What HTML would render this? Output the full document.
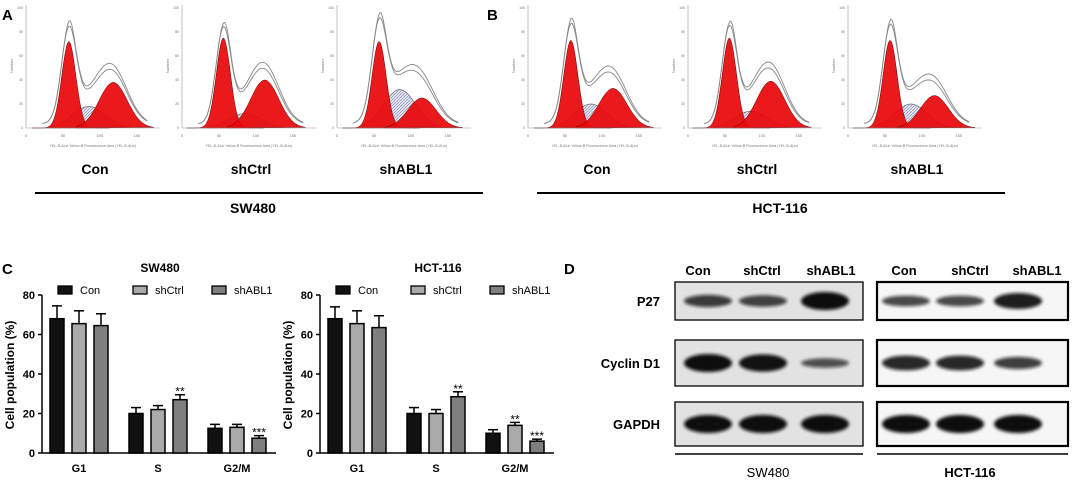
<!DOCTYPE html>
<html><head><meta charset="utf-8"><style>
body{margin:0;background:#fff;width:1074px;height:485px;overflow:hidden;font-family:"Liberation Sans",Arial,sans-serif}
svg text{font-family:"Liberation Sans",Arial,sans-serif}
</style></head><body>
<svg id="fig" width="1074" height="485" viewBox="0 0 1074 485">
<defs>
<pattern id="hatch" width="3" height="3" patternUnits="userSpaceOnUse"><rect width="3" height="3" fill="#e4e6f0"/><path d="M0,3 L3,0" stroke="#7a7fa8" stroke-width="0.6"/></pattern>
<filter id="blur" x="-20%" y="-50%" width="140%" height="200%"><feGaussianBlur stdDeviation="1.6"/></filter>
</defs>
<g id="panelA"></g><g id="panelC"></g><g id="panelD"></g>
<text x="2" y="20" font-size="15" font-weight="bold">A</text>
<text x="487" y="20" font-size="15" font-weight="bold">B</text>
<text x="2" y="274" font-size="15" font-weight="bold">C</text>
<text x="564" y="274" font-size="15" font-weight="bold">D</text>
</svg>
<script>
const NS='http://www.w3.org/2000/svg';
function mk(p,tag,at,txt){const e=document.createElementNS(NS,tag);for(const k in at)e.setAttribute(k,at[k]);if(txt!=null)e.textContent=txt;p.appendChild(e);return e;}

// ---- Panel A/B histogram data ----
const histGroups=['Con','shCtrl','shABL1'];
const histG1Height=[72,75,72, 73,75,73];
const histG1Mean=[58,56,57, 58,56,57];
const histS=[18,12,32, 20,14,20];
const histG2Height=[38,40,25, 33,39,27];
const histG2Mean=[118,112,115, 115,112,117];
const histOrigins=[0,156,311, 502,662,822];
const cellLines=['SW480','HCT-116'];

const A=document.getElementById('panelA');
function hx(ox,v){return ox+26+v*133/180;}
function hy(v){return 128-v*1.2;}
function gauss(x,m,s){return Math.exp(-((x-m)*(x-m))/(2*s*s));}
for(let i=0;i<6;i++){
  const ox=histOrigins[i];
  const g=mk(A,'g',{});
  
  
  let d='M'+hx(ox,35)+','+hy(0);
  for(let v=35;v<=140;v+=2){d+=' L'+hx(ox,v).toFixed(1)+','+hy(histS[i]*gauss(v,85,22)).toFixed(1);}
  d+=' Z';
  mk(g,'path',{d:d,fill:'url(#hatch)',stroke:'#555','stroke-width':0.6});
  [[histG1Height[i],histG1Mean[i],9.5],[histG2Height[i],histG2Mean[i],19]].forEach(p=>{
    let dd='M'+hx(ox,p[1]-50)+','+hy(0);
    for(let v=p[1]-50;v<=p[1]+55;v+=1.5)dd+=' L'+hx(ox,v).toFixed(1)+','+hy(p[0]*gauss(v,p[1],p[2])).toFixed(1);
    dd+=' Z';
    mk(g,'path',{d:dd,fill:'#e8080a',stroke:'#600','stroke-width':0.5,'fill-opacity':0.93});
  });
  [0,5].forEach(off=>{
    let dd='';
    for(let v=22;v<=165;v+=2){
      const y=histG1Height[i]*gauss(v,histG1Mean[i],10)+histS[i]*gauss(v,85,24)+histG2Height[i]*gauss(v,histG2Mean[i],20)+off*gauss(v,110,25)+(off?4*gauss(v,60,4):0);
      dd+=(dd?' L':'M')+hx(ox,v).toFixed(1)+','+hy(y+3).toFixed(1);
    }
    mk(g,'path',{d:dd,fill:'none',stroke:'#888','stroke-width':0.9});
  });
  mk(g,'line',{x1:ox+26,y1:5,x2:ox+26,y2:128,stroke:'#999','stroke-width':0.6});
  mk(g,'line',{x1:ox+26,y1:128,x2:ox+160,y2:128,stroke:'#999','stroke-width':0.6});
  [0,50,100,150].forEach(t=>mk(g,'text',{x:hx(ox,t),y:137,'font-size':4,fill:'#777','text-anchor':'middle'},String(t)));
  [0,20,40,60,80,100].forEach(t=>mk(g,'text',{x:ox+23,y:hy(t)+1,'font-size':3.5,fill:'#777','text-anchor':'end'},String(t)));
  mk(g,'text',{x:ox+13,y:66,'font-size':4,fill:'#777','text-anchor':'middle',transform:'rotate(-90 '+(ox+13)+' 66)'},'Number');
  mk(g,'text',{x:ox+93,y:147,'font-size':3.6,fill:'#777','text-anchor':'middle'},'YEL-B-ALin Yellow-B Fluorescence Area (YEL-B-ALin)');
  const lbl=mk(g,'text',{x:ox+95,y:174,'font-size':14,'font-weight':'bold','text-anchor':'middle'},histGroups[i%3]);
  
  
}
[[35,483,253],[537,1005,780]].forEach((p,k)=>{
  mk(A,'line',{x1:p[0],y1:193,x2:p[1],y2:193,stroke:'#000','stroke-width':2});
  const t=mk(A,'text',{x:p[2],y:213,'font-size':14,'font-weight':'bold','text-anchor':'middle'},cellLines[k]);
  
  
});

// ---- Panel C bar chart data ----
const phases=['G1','S','G2/M'];
const series=['Con','shCtrl','shABL1'];
const sw480Con=[68,20,12.5], sw480Ctrl=[65.5,22,13], sw480ABL=[64.5,27,7.5];
const sw480ConErr=[6.5,3,2], sw480CtrlErr=[6.5,2,1.5], sw480ABLErr=[6,2.5,1.3];
const hctCon=[68,20,10], hctCtrl=[65.5,20,14], hctABL=[63.5,28.5,6];
const hctConErr=[6,3,1.8], hctCtrlErr=[6.5,2,1.5], hctABLErr=[6,2.5,1];
const sw480Stars=[['','',''],['','','**'],['','','***']];
const hctStars=[['','',''],['','','**'],['','**','***']];
const yTicks=[0,20,40,60,80];
const fills=['#111','#aaa','#7f7f7f'];

const C=document.getElementById('panelC');
function drawChart(ox,title,vals,errs,stars){
  const g=mk(C,'g',{});
  
  
  const y=v=>453-v*158/80;
  const xc=i=>ox+79+i*79;
  mk(g,'text',{x:ox+160,y:272,'font-size':12,'font-weight':'bold','text-anchor':'middle'},title);
  mk(g,'line',{x1:ox+42,y1:y(80),x2:ox+42,y2:453,stroke:'#000','stroke-width':1.5});
  mk(g,'line',{x1:ox+42,y1:453,x2:ox+276,y2:453,stroke:'#000','stroke-width':1.5});
  yTicks.forEach(t=>{
    mk(g,'line',{x1:ox+38,y1:y(t),x2:ox+42,y2:y(t),stroke:'#000','stroke-width':1.5});
    mk(g,'text',{x:ox+35,y:y(t)+4,'font-size':11,'font-weight':'bold','text-anchor':'end'},String(t));
  });
  mk(g,'text',{x:ox+14,y:375,'font-size':12,'font-weight':'bold','text-anchor':'middle',transform:'rotate(-90 '+(ox+14)+' 375)'},'Cell population (%)');
  phases.forEach((p,i)=>mk(g,'text',{x:xc(i),y:472,'font-size':11,'font-weight':'bold','text-anchor':'middle'},p));
  for(let s=0;s<3;s++){
    for(let i=0;i<3;i++){
      const cx=xc(i)+(s-1)*22, v=vals[s][i], e=errs[s][i];
      mk(g,'line',{x1:cx,y1:y(v),x2:cx,y2:y(v+e),stroke:'#000','stroke-width':1.5});
      mk(g,'line',{x1:cx-5,y1:y(v+e),x2:cx+5,y2:y(v+e),stroke:'#000','stroke-width':1.5});
      const b=mk(g,'rect',{x:cx-7,y:y(v),width:14,height:y(0)-y(v),fill:fills[s],stroke:'#000','stroke-width':1.5});
      
      
      if(stars[i][s])mk(g,'text',{x:cx,y:y(v+e)+1,'font-size':12,'text-anchor':'middle'},stars[i][s]);
    }
    const lx=ox+[58,133,212][s];
    mk(g,'rect',{x:lx,y:286,width:14,height:8,fill:fills[s],stroke:'#000','stroke-width':1.3});
    const lt=mk(g,'text',{x:lx+22,y:294,'font-size':11},series[s]);
    
    
  }
}
function p2(s){return s.replace('/','').toLowerCase();}
drawChart(0,'SW480',[sw480Con,sw480Ctrl,sw480ABL],[sw480ConErr,sw480CtrlErr,sw480ABLErr],sw480Stars);
drawChart(278,'HCT-116',[hctCon,hctCtrl,hctABL],[hctConErr,hctCtrlErr,hctABLErr],hctStars);

// ---- Panel D western blot ----
const proteins=['P27','Cyclin D1','GAPDH'];
const swBandSize=[[0.55,0.5,1.0],[1.0,0.95,0.35],[1,1,1]];
const hctBandSize=[[0.45,0.45,0.85],[0.75,0.75,0.55],[1,1,1]];
const D=document.getElementById('panelD');
const rows=[[282,320],[340,386],[402,446]];
let clipId=0;
[[675,863,swBandSize,[698,762,831],'#e2e2e2',768,'SW480',[708,763,825]],[877,1068,hctBandSize,[904,970,1037],'#f6f6f6',970,'HCT-116',[906,960,1018]]].forEach((bl,k)=>{
  const g=mk(D,'g',{});
  
  
  series.forEach((s,i)=>mk(g,'text',{x:bl[3][i],y:275,'font-size':13,'font-weight':'bold','text-anchor':'middle'},s));
  rows.forEach((r,ri)=>{
    const id='clip'+(clipId++);
    const cp=mk(g,'clipPath',{id:id});
    mk(cp,'rect',{x:bl[0],y:r[0],width:bl[1]-bl[0],height:r[1]-r[0]});
    mk(g,'rect',{x:bl[0],y:r[0],width:bl[1]-bl[0],height:r[1]-r[0],fill:bl[4]});
    const bg=mk(g,'g',{'clip-path':'url(#'+id+')'});
    const cy=(r[0]+r[1])/2;
    bl[7].forEach((cx,i)=>{
      const sz=bl[2][ri][i];
      const b=mk(bg,'ellipse',{cx:cx,cy:cy,rx:24,ry:2.5+6.5*sz,fill:'#111','fill-opacity':0.55+0.45*sz,filter:'url(#blur)'});
      
      
    });
    mk(g,'rect',{x:bl[0],y:r[0],width:bl[1]-bl[0],height:r[1]-r[0],fill:'none',stroke:'#000','stroke-width':k?2.2:1.3});
  });
  mk(g,'line',{x1:bl[0],y1:454,x2:bl[1],y2:454,stroke:'#000','stroke-width':1.5});
  mk(g,'text',{x:bl[5],y:477,'font-size':13,'text-anchor':'middle','font-weight':k?'bold':'normal'},bl[6]);
});
proteins.forEach((p,i)=>{
  const t=mk(D,'text',{x:660,y:(rows[i][0]+rows[i][1])/2+5,'font-size':13,'font-weight':'bold','text-anchor':'end'},p);
  
  
});
</script>
</body></html>
